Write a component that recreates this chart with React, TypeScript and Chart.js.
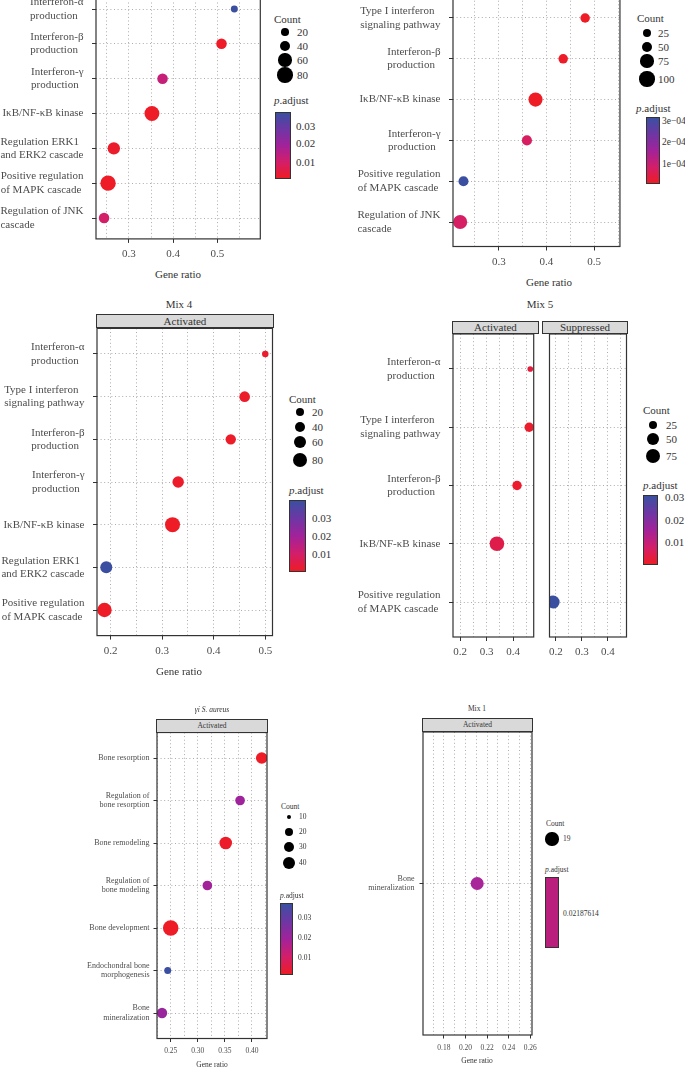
import { useEffect, useRef } from 'react';
import type { ReactNode } from 'react';
import { Chart, registerables } from 'chart.js';

Chart.register(...registerables);

const SERIF = '"Liberation Serif", "Times New Roman", serif';
const STOPS = ['#EE1C25', '#D21E6B', '#A2229A', '#6E36A4', '#3B4FA1'];

// ---- top-left panel (title cut off) ----
const aTerms = ['Interferon-α\nproduction', 'Interferon-β\nproduction', 'Interferon-γ\nproduction', 'IκB/NF-κB kinase',
  'Regulation ERK1\nand ERK2 cascade', 'Positive regulation\nof MAPK cascade', 'Regulation of JNK\ncascade'];
const aRatio = [0.538, 0.509, 0.376, 0.352, 0.266, 0.253, 0.244];
const aCount = [17, 38, 38, 75, 52, 80, 38];
const aPadj = [0.0378, 0.001, 0.0125, 0.0008, 0.0015, 0.0008, 0.0095];
const aCountBreaks = [20, 40, 60, 80];
const aPadjTicks = ['0.03', '0.02', '0.01'];

// ---- top-right panel ----
const bTerms = ['Type I interferon\nsignaling pathway', 'Interferon-β\nproduction', 'IκB/NF-κB kinase', 'Interferon-γ\nproduction',
  'Positive regulation\nof MAPK cascade', 'Regulation of JNK\ncascade'];
const bRatio = [0.481, 0.435, 0.377, 0.359, 0.226, 0.219];
const bCount = [36, 36, 86, 41, 41, 86];
const bPadj = [2e-6, 4e-6, 1e-6, 7e-5, 3.3e-4, 7.5e-5];
const bCountBreaks = [25, 50, 75, 100];
const bPadjTicks = ['3e−04', '2e−04', '1e−04'];

// ---- Mix 4 ----
const cTerms = ['Interferon-α\nproduction', 'Type I interferon\nsignaling pathway', 'Interferon-β\nproduction', 'Interferon-γ\nproduction',
  'IκB/NF-κB kinase', 'Regulation ERK1\nand ERK2 cascade', 'Positive regulation\nof MAPK cascade'];
const cRatio = [0.5, 0.46, 0.433, 0.331, 0.32, 0.1915, 0.188];
const cCount = [12, 39, 37, 46, 85, 52, 78];
const cPadj = [0.0012, 0.001, 0.0009, 0.0011, 0.0006, 0.04, 0.0005];
const cCountBreaks = [20, 40, 60, 80];
const cPadjTicks = ['0.03', '0.02', '0.01'];

// ---- Mix 5 ----
const dTerms = ['Interferon-α\nproduction', 'Type I interferon\nsignaling pathway', 'Interferon-β\nproduction', 'IκB/NF-κB kinase',
  'Positive regulation\nof MAPK cascade'];
const dGroup = ['Activated', 'Activated', 'Activated', 'Activated', 'Suppressed'];
const dRatio = [0.465, 0.461, 0.415, 0.339, 0.189];
const dCount = [8, 28, 28, 75, 58];
const dPadj = [0.003, 0.0012, 0.0015, 0.0045, 0.031];
const dCountBreaks = [25, 50, 75];
const dPadjTicks = ['0.03', '0.02', '0.01'];

// ---- γi S. aureus ----
const eTerms = ['Bone resorption', 'Regulation of\nbone resorption', 'Bone remodeling', 'Regulation of\nbone modeling',
  'Bone development', 'Endochondral bone\nmorphogenesis', 'Bone\nmineralization'];
const eRatio = [0.418, 0.378, 0.3515, 0.3176, 0.25, 0.2445, 0.234];
const eCount = [35, 26, 40, 26, 57, 16, 29];
const ePadj = [0.0018, 0.02, 0.002, 0.0195, 0.0016, 0.0375, 0.021];
const eCountBreaks = [10, 20, 30, 40];
const ePadjTicks = ['0.03', '0.02', '0.01'];

// ---- Mix 1 ----
const fTerms = ['Bone\nmineralization'];
const fRatio = [0.2108];
const fCount = [19];
const fPadj = [0.02187614];
const fCountBreaks = [19];
const fPadjTicks = ['0.02187614'];

const hex = (h: string) => [1, 3, 5].map((i) => parseInt(h.slice(i, i + 2), 16));
function ramp(t: number) {
  const u = Math.max(0, Math.min(1, t)) * (STOPS.length - 1);
  const i = Math.min(STOPS.length - 2, Math.floor(u));
  const f = u - i;
  const a = hex(STOPS[i]);
  const b = hex(STOPS[i + 1]);
  return `rgb(${a.map((v, k) => Math.round(v + (b[k] - v) * f)).join(',')})`;
}
const scaleCol = (lo: number, hi: number) => (p: number) => ramp((p - lo) / (hi - lo));
const scaleSize = (a: number, b: number) => (c: number) => a + b * Math.sqrt(c);
const GRAD = `linear-gradient(to top, ${STOPS.join(', ')})`;

type Box = { x0: number; y0: number; x1: number; y1: number };
type Frame = { left: number; top: number; width: number; height: number };
type Pt = { x: number; row: number; count: number; p: number };

interface PanelProps {
  rowLabels: string[];
  nRows: number;
  points: Pt[];
  box: Box;
  frame: Frame;
  xMin: number;
  xMax: number;
  minor: number;
  digits: number;
  size: (c: number) => number;
  colour: (p: number) => string;
  yFont: number;
  yLine: number;
  xFont: number;
  align: 'left' | 'right';
  tickLen: number;
  gap: number;
  xPad: number;
  yTicks: boolean;
}

function DotPanel(p: PanelProps) {
  const ref = useRef<HTMLCanvasElement>(null);

  useEffect(() => {
    if (!ref.current) return;
    const { box, frame } = p;
    const yW = box.x0 - frame.left;
    const xH = frame.top + frame.height - box.y1;
    const xTicks: number[] = [];
    for (let k = Math.ceil(p.xMin / p.minor - 1e-6); k * p.minor <= p.xMax + 1e-9; k++) {
      xTicks.push(Math.round(k * p.minor * 1e6) / 1e6);
    }
    const isMajor = (v: number) => Math.abs(Math.round(v / p.minor)) % 2 === 0;
    const rows = Array.from({ length: p.nRows }, (_, i) => i);

    const frameLine = {
      id: 'frameLine',
      afterDraw(chart: Chart) {
        const a = chart.chartArea;
        const ctx = chart.ctx;
        ctx.save();
        ctx.strokeStyle = '#333';
        ctx.lineWidth = 1.2;
        ctx.strokeRect(a.left, a.top, a.right - a.left, a.bottom - a.top);
        ctx.restore();
      },
    };
    // row labels: block sits against the axis, lines aligned left or right within it
    const yLabels = {
      id: 'yLabels',
      afterDraw(chart: Chart) {
        const ys = chart.scales.y;
        const ctx = chart.ctx;
        ctx.save();
        ctx.font = `${p.yFont}px ${SERIF}`;
        ctx.fillStyle = '#4d4d4d';
        ctx.textBaseline = 'middle';
        const right = chart.chartArea.left - p.tickLen - p.gap;
        p.rowLabels.forEach((lab, i) => {
          const lines = lab.split('\n');
          const cy = ys.getPixelForValue(i);
          const w = Math.max(...lines.map((l) => ctx.measureText(l).width));
          lines.forEach((l, j) => {
            const y = cy + (j - (lines.length - 1) / 2) * p.yLine;
            if (p.align === 'left') {
              ctx.textAlign = 'left';
              ctx.fillText(l, right - w, y);
            } else {
              ctx.textAlign = 'right';
              ctx.fillText(l, right, y);
            }
          });
        });
        ctx.restore();
      },
    };

    const chart = new Chart(ref.current, {
      type: 'bubble',
      data: {
        datasets: [{
          data: p.points.map((d) => ({ x: d.x, y: d.row, r: p.size(d.count) })),
          backgroundColor: p.points.map((d) => p.colour(d.p)),
          borderWidth: 0,
          hoverBorderWidth: 0,
        }],
      },
      options: {
        animation: false,
        responsive: false,
        events: [],
        layout: { padding: { left: 0, top: box.y0 - frame.top, right: frame.left + frame.width - box.x1, bottom: 0 } },
        plugins: { legend: { display: false }, tooltip: { enabled: false } },
        scales: {
          x: {
            type: 'linear',
            position: 'bottom',
            min: p.xMin,
            max: p.xMax,
            afterBuildTicks: (s) => { s.ticks = xTicks.map((v) => ({ value: v })); },
            afterFit: (s) => { s.height = xH; s.paddingLeft = 0; s.paddingRight = 0; },
            ticks: {
              autoSkip: false,
              maxRotation: 0,
              minRotation: 0,
              padding: p.xPad,
              color: '#4d4d4d',
              font: { family: SERIF, size: p.xFont },
              callback: (v) => (isMajor(Number(v)) ? Number(v).toFixed(p.digits) : ''),
            },
            grid: {
              color: '#a3a3a3',
              lineWidth: 0.9,
              drawTicks: true,
              tickLength: p.tickLen,
              tickWidth: 1,
              tickColor: (c: any) => (c.tick && isMajor(c.tick.value) ? '#333' : 'rgba(0,0,0,0)'),
              tickBorderDash: [],
            },
            border: { display: false, dash: [1, 2.6] },
          },
          y: {
            type: 'linear',
            position: 'left',
            reverse: true,
            min: -0.6,
            max: p.nRows - 0.4,
            afterBuildTicks: (s) => { s.ticks = rows.map((v) => ({ value: v })); },
            afterFit: (s) => { s.width = yW; s.paddingTop = 0; s.paddingBottom = 0; },
            ticks: { display: false },
            grid: {
              color: '#a3a3a3',
              lineWidth: 0.9,
              drawTicks: p.yTicks,
              tickLength: p.tickLen,
              tickWidth: 1,
              tickColor: '#333',
              tickBorderDash: [],
            },
            border: { display: false, dash: [1, 2.6] },
          },
        },
      },
      plugins: [frameLine, yLabels],
    });
    return () => chart.destroy();
  }, []);

  const f = p.frame;
  return (
    <canvas ref={ref} width={f.width} height={f.height}
      style={{ position: 'absolute', left: f.left, top: f.top, width: f.width, height: f.height }} />
  );
}

function Txt({ x, y, size, children, center, italic, color }: {
  x: number; y: number; size: number; children: ReactNode; center?: boolean; italic?: boolean; color?: string;
}) {
  return (
    <div style={{
      position: 'absolute', left: x, top: y, transform: center ? 'translate(-50%, -50%)' : 'translateY(-50%)',
      fontFamily: SERIF, fontSize: size, lineHeight: 1, whiteSpace: 'nowrap', color: color ?? '#333',
      fontStyle: italic ? 'italic' : 'normal',
    }}>{children}</div>
  );
}

function Strip({ x0, x1, y1, h, label, size }: { x0: number; x1: number; y1: number; h: number; label: string; size: number }) {
  return (
    <div style={{
      position: 'absolute', left: x0 - 0.6, top: y1 - h, width: x1 - x0 + 1.2, height: h, boxSizing: 'border-box',
      background: '#d9d9d9', border: '1.2px solid #333', display: 'flex', alignItems: 'center', justifyContent: 'center',
      fontFamily: SERIF, fontSize: size, color: '#333', lineHeight: 1,
    }}>{label}</div>
  );
}

function SizeKey({ x, titleY, cx, ys, labelX, breaks, size, font }: {
  x: number; titleY: number; cx: number; ys: number[]; labelX: number; breaks: number[]; size: (c: number) => number; font: number;
}) {
  return (
    <>
      <Txt x={x} y={titleY} size={font}>Count</Txt>
      {breaks.map((b, i) => {
        const r = size(b);
        return <div key={i} style={{ position: 'absolute', left: cx - r, top: ys[i] - r, width: 2 * r, height: 2 * r, borderRadius: '50%', background: '#000' }} />;
      })}
      {breaks.map((b, i) => <Txt key={'t' + i} x={labelX} y={ys[i]} size={font}>{b}</Txt>)}
    </>
  );
}

function ColourKey({ x, titleY, bar, labelX, labelYs, labels, font, labelFont, fill }: {
  x: number; titleY: number; bar: Box; labelX: number; labelYs: number[]; labels: string[]; font: number; labelFont?: number; fill: string;
}) {
  return (
    <>
      <Txt x={x} y={titleY} size={font}><i>p</i>.adjust</Txt>
      <div style={{
        position: 'absolute', left: bar.x0, top: bar.y0, width: bar.x1 - bar.x0, height: bar.y1 - bar.y0,
        boxSizing: 'border-box', border: '1px solid #333', background: fill,
      }} />
      {labels.map((l, i) => <Txt key={i} x={labelX} y={labelYs[i]} size={labelFont ?? font}>{l}</Txt>)}
    </>
  );
}

const pts = (ratio: number[], count: number[], padj: number[]) =>
  ratio.map((x, i) => ({ x, row: i, count: count[i], p: padj[i] }));

export default function App() {
  const aSize = scaleSize(-0.1, 0.872);
  const bSize = scaleSize(0.55, 0.7);
  const cSize = scaleSize(0.7, 0.738);
  const dSize = scaleSize(0.67, 0.765);
  const eSize = scaleSize(-1.3, 1.2);
  const fSize = scaleSize(0, 1.5);

  const big = { yFont: 11, yLine: 13.3, xFont: 11, align: 'left' as const, tickLen: 4, gap: 8.5, xPad: 5, yTicks: true };
  const small = { yFont: 8, yLine: 9.7, xFont: 7.5, align: 'right' as const, tickLen: 3.5, gap: 4, xPad: 5, yTicks: true };

  const dAct = dRatio.map((_, i) => i).filter((i) => dGroup[i] === 'Activated');
  const dSup = dRatio.map((_, i) => i).filter((i) => dGroup[i] === 'Suppressed');

  return (
    <div style={{ position: 'absolute', left: 0, top: 0, width: 685, height: 1068, overflow: 'hidden', background: '#fff' }}>
      {/* top left */}
      <DotPanel {...big} rowLabels={aTerms} nRows={aTerms.length} points={pts(aRatio, aCount, aPadj)}
        box={{ x0: 96, y0: -11.9, x1: 261, y1: 238.9 }} frame={{ left: 0, top: -40, width: 268, height: 305 }}
        xMin={0.2258} xMax={0.5966} minor={0.05} digits={1} size={aSize} colour={scaleCol(0.0006, 0.0378)} />
      <Txt x={178} y={274} size={11} center>Gene ratio</Txt>
      <SizeKey x={274} titleY={19} cx={285} ys={[32, 46, 60, 75]} labelX={297} breaks={aCountBreaks} size={aSize} font={11} />
      <ColourKey x={274} titleY={100} bar={{ x0: 275, y0: 112, x1: 291, y1: 179 }} labelX={296} labelYs={[126, 143, 162]}
        labels={aPadjTicks} font={11} fill={GRAD} />

      {/* top right */}
      <DotPanel {...big} rowLabels={bTerms} nRows={bTerms.length} points={pts(bRatio, bCount, bPadj)}
        box={{ x0: 453, y0: -6.5, x1: 622, y1: 246.5 }} frame={{ left: 345, top: -40, width: 282, height: 315 }}
        xMin={0.204} xMax={0.554} minor={0.05} digits={1} size={bSize} colour={scaleCol(1e-6, 3.3e-4)} />
      <Txt x={549} y={282} size={11} center>Gene ratio</Txt>
      <SizeKey x={637} titleY={18} cx={647} ys={[33, 47, 61, 79]} labelX={658} breaks={bCountBreaks} size={bSize} font={11} />
      <ColourKey x={636} titleY={108} bar={{ x0: 646, y0: 117, x1: 660, y1: 184 }} labelX={662} labelYs={[122, 143, 165]}
        labels={bPadjTicks} font={11} labelFont={9.5} fill={GRAD} />

      {/* Mix 4 */}
      <Txt x={179} y={304} size={11} center>Mix 4</Txt>
      <DotPanel {...big} rowLabels={cTerms} nRows={cTerms.length} points={pts(cRatio, cCount, cPadj)}
        box={{ x0: 97, y0: 328.4, x1: 273, y1: 635.6 }} frame={{ left: 0, top: 300, width: 280, height: 365 }}
        xMin={0.1735} xMax={0.514} minor={0.05} digits={1} size={cSize} colour={scaleCol(0.0003, 0.04)} />
      <Strip x0={97} x1={273} y1={328.4} h={14} label="Activated" size={11} />
      <Txt x={179} y={671} size={11} center>Gene ratio</Txt>
      <SizeKey x={289} titleY={399} cx={300} ys={[412, 427, 442, 460]} labelX={312} breaks={cCountBreaks} size={cSize} font={11} />
      <ColourKey x={289} titleY={490} bar={{ x0: 289, y0: 500, x1: 306, y1: 572 }} labelX={312} labelYs={[518, 536, 554]}
        labels={cPadjTicks} font={11} fill={GRAD} />

      {/* Mix 5 */}
      <Txt x={540} y={304} size={11} center>Mix 5</Txt>
      <DotPanel {...big} rowLabels={dTerms} nRows={dTerms.length}
        points={dAct.map((i) => ({ x: dRatio[i], row: i, count: dCount[i], p: dPadj[i] }))}
        box={{ x0: 453, y0: 334, x1: 538, y1: 637 }} frame={{ left: 345, top: 300, width: 196, height: 365 }}
        xMin={0.173} xMax={0.478} minor={0.05} digits={1} size={dSize} colour={scaleCol(0.0005, 0.031)} xPad={4.5} />
      <DotPanel {...big} rowLabels={[]} nRows={dTerms.length} yTicks={false}
        points={dSup.map((i) => ({ x: dRatio[i], row: i, count: dCount[i], p: dPadj[i] }))}
        box={{ x0: 543, y0: 334, x1: 627, y1: 637 }} frame={{ left: 543, top: 300, width: 90, height: 365 }}
        xMin={0.175} xMax={0.472} minor={0.05} digits={1} size={dSize} colour={scaleCol(0.0005, 0.031)} xPad={4.5} />
      <Strip x0={453} x1={538} y1={334} h={13} label="Activated" size={11} />
      <Strip x0={543} x1={627} y1={334} h={13} label="Suppressed" size={11} />
      <SizeKey x={643} titleY={410} cx={653} ys={[425, 439, 456]} labelX={666} breaks={dCountBreaks} size={dSize} font={11} />
      <ColourKey x={643} titleY={485} bar={{ x0: 643, y0: 495, x1: 658, y1: 565 }} labelX={665} labelYs={[497, 520, 542]}
        labels={dPadjTicks} font={11} fill={GRAD} />

      {/* γi S. aureus */}
      <Txt x={212} y={710} size={7.5} center italic>γi S. aureus</Txt>
      <DotPanel {...small} rowLabels={eTerms} nRows={eTerms.length} points={pts(eRatio, eCount, ePadj)}
        box={{ x0: 157, y0: 732.5, x1: 267, y1: 1038.5 }} frame={{ left: 0, top: 700, width: 275, height: 365 }}
        xMin={0.2247} xMax={0.4277} minor={0.025} digits={2} size={eSize} colour={scaleCol(0.0015, 0.0375)} />
      <Strip x0={157} x1={267} y1={732.5} h={14} label="Activated" size={7.5} />
      <Txt x={212} y={1065} size={7.5} center>Gene ratio</Txt>
      <SizeKey x={281} titleY={807} cx={289} ys={[817, 832, 847, 863]} labelX={299} breaks={eCountBreaks} size={eSize} font={7.5} />
      <ColourKey x={280} titleY={896} bar={{ x0: 280, y0: 903, x1: 293, y1: 975 }} labelX={298} labelYs={[918, 938, 958]}
        labels={ePadjTicks} font={7.5} fill={GRAD} />

      {/* Mix 1 */}
      <Txt x={477} y={709} size={7.5} center>Mix 1</Txt>
      <DotPanel {...small} rowLabels={fTerms} nRows={fTerms.length} points={pts(fRatio, fCount, fPadj)}
        box={{ x0: 423, y0: 732, x1: 532, y1: 1035 }} frame={{ left: 345, top: 700, width: 195, height: 360 }}
        xMin={0.1606} xMax={0.2616} minor={0.01} digits={2} size={fSize} colour={() => '#A8269A'} gap={5} />
      <Strip x0={423} x1={532} y1={732} h={14} label="Activated" size={7.5} />
      <Txt x={477} y={1061} size={7.5} center>Gene ratio</Txt>
      <SizeKey x={546} titleY={824} cx={552} ys={[839]} labelX={563} breaks={fCountBreaks} size={fSize} font={7.5} />
      <ColourKey x={545} titleY={870} bar={{ x0: 545, y0: 877, x1: 559, y1: 948 }} labelX={563} labelYs={[914]}
        labels={fPadjTicks} font={7.5} fill="#BA1F7D" />
    </div>
  );
}
